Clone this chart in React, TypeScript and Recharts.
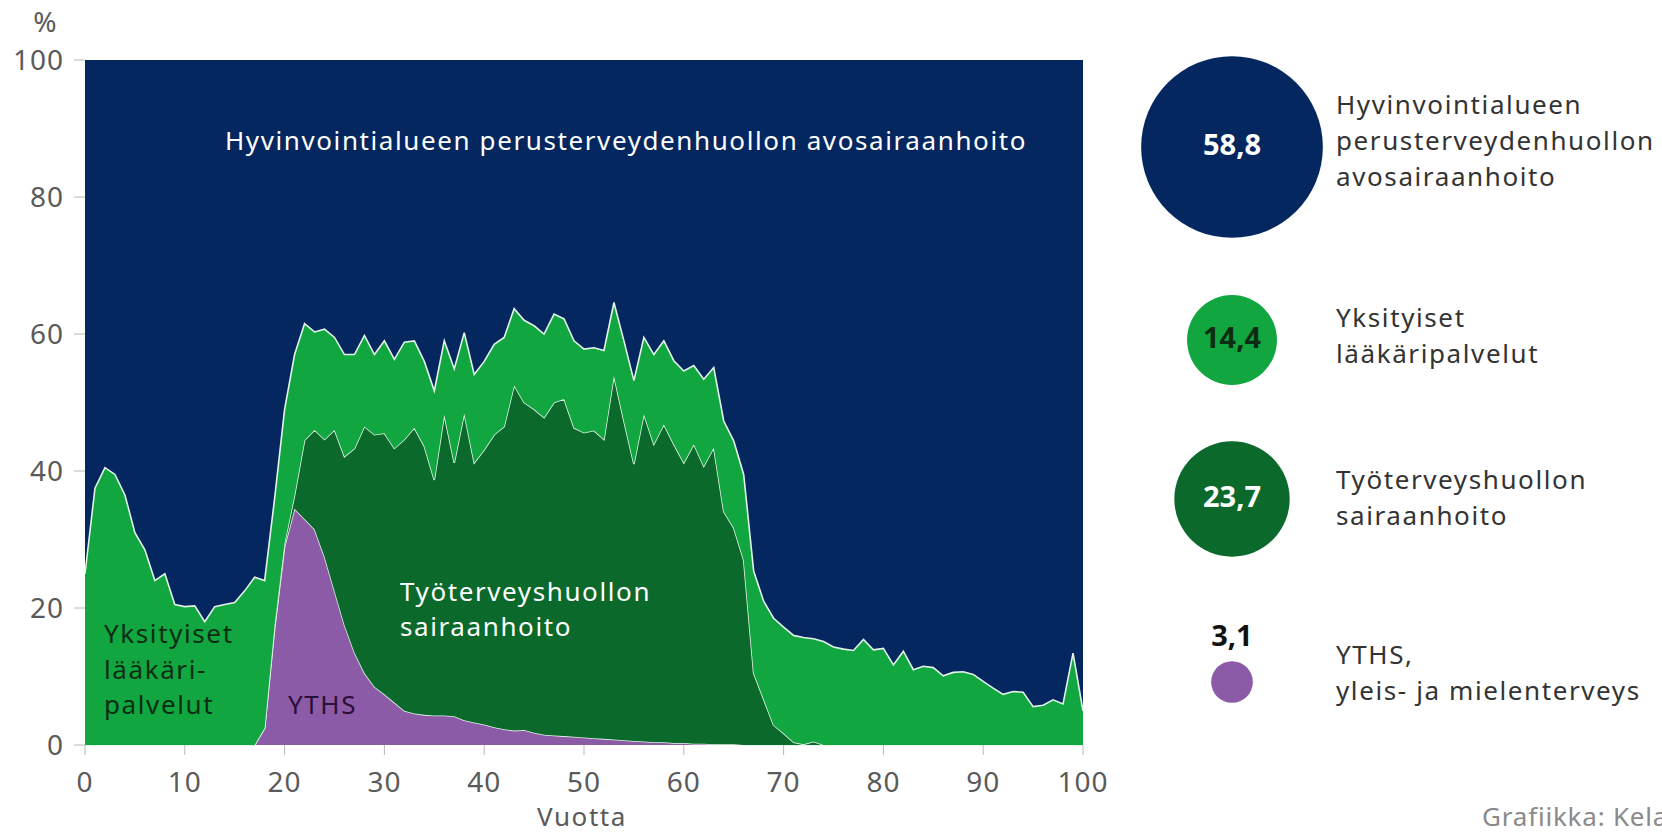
import React from 'react';
import { AreaChart, Area, XAxis, YAxis, ReferenceArea } from 'recharts';

const ages: number[] = Array.from({ length: 101 }, (_, i) => i);

const yths: number[] = [
  0, 0, 0, 0, 0, 0, 0, 0, 0, 0, 0, 0, 0, 0, 0, 0, 0, 0,
  2.5, 17, 29, 34.5, 33, 31.5, 27.5, 22.5, 17.5, 13.5, 10.5, 8.5,
  7.4, 6.2, 5, 4.6, 4.4, 4.3, 4.3, 4.2, 3.6, 3.3,
  3, 2.6, 2.3, 2.1, 2.2, 1.8, 1.5, 1.4, 1.3, 1.2,
  1.1, 1, 0.9, 0.8, 0.7, 0.6, 0.5, 0.4, 0.4, 0.3,
  0.3, 0.2, 0.2, 0.1, 0.1, 0.1,
  0, 0, 0, 0, 0, 0, 0, 0, 0, 0, 0, 0, 0, 0, 0, 0, 0, 0, 0, 0, 0, 0, 0, 0, 0, 0, 0, 0, 0, 0, 0, 0, 0, 0, 0,
];

const tyo: number[] = [
  0, 0, 0, 0, 0, 0, 0, 0, 0, 0, 0, 0, 0, 0, 0, 0, 0, 0, 0,
  0.5, 0.5, 2, 11.5, 14.5, 17.1, 23.5, 24.6, 29.8, 36, 36.8,
  38.1, 37.1, 39.6, 41.7, 39.2, 34.4, 43.9, 37, 44.8, 37.9,
  40.1, 42.7, 44.2, 50.4, 47.8, 47.2, 46.3, 48.6, 49.2, 45.1,
  44.5, 44.9, 43.7, 53.1, 46.6, 40.4, 47.8, 43.5, 46.4, 43.6,
  40.9, 43.7, 40.5, 43.3, 34, 31.6, 27, 10.5, 6.7, 2.9,
  1.7, 0.4, 0.1, 0.5,
  0, 0, 0, 0, 0, 0, 0, 0, 0, 0, 0, 0, 0, 0, 0, 0, 0, 0, 0, 0, 0, 0, 0, 0, 0, 0, 0,
];

const yks: number[] = [
  25, 37.5, 40.5, 39.5, 36.5, 31, 28.5, 24, 25, 20.5,
  20.2, 20.3, 18, 20.2, 20.5, 20.8, 22.5, 24.5, 21.5, 18.5,
  19.5, 20.5, 17, 14.3, 16.1, 13.5, 14.9, 13.7, 13.3, 11.7,
  13.5, 13, 14.2, 12.7, 12.4, 13, 10.8, 13.7, 11.8, 12.9,
  12.9, 13.2, 13, 11.2, 12, 12.2, 12.2, 12.9, 11.7, 12.7,
  12.2, 12.1, 13, 10.7, 11.7, 12.2, 11.2, 13.1, 12.2, 12.2,
  13.4, 11.5, 12.7, 11.7, 13.2, 12.7, 12.5, 14.9, 14.3, 15.6,
  15.5, 15.6, 15.6, 15, 15.1, 14.3, 14, 13.8, 15.4, 13.9,
  14.1, 11.7, 13.7, 11, 11.5, 11.3, 10.1, 10.6, 10.7, 10.3,
  9.3, 8.3, 7.4, 7.8, 7.7, 5.6, 5.8, 6.6, 6, 13.4,
  5,
];

const xTicks: number[] = [0, 10, 20, 30, 40, 50, 60, 70, 80, 90, 100];
const yTicks: number[] = [0, 20, 40, 60, 80, 100];

const legendNames: string[][] = [
  ['Hyvinvointialueen', 'perusterveydenhuollon', 'avosairaanhoito'],
  ['Yksityiset', 'lääkäripalvelut'],
  ['Työterveyshuollon', 'sairaanhoito'],
  ['YTHS,', 'yleis- ja mielenterveys'],
];
const legendShares: number[] = [58.8, 14.4, 23.7, 3.1];
const legendLabels: string[] = ['58,8', '14,4', '23,7', '3,1'];

const NAVY = '#03275e';
const GREEN = '#11a63f';
const DARK = '#0a692b';
const PURPLE = '#8b5ba7';
const LINE = '#e4f3e8';
const FONT = '"Noto Sans", sans-serif';
const LS = 1.6;

const data = ages.map((a, i) => ({ age: a, yths: yths[i], tyo: tyo[i], yks: yks[i] }));

const legendCentersY = [147, 340, 499, 682];
const legendTextY = [107, 320, 482, 657];
const legendNumFill = ['#ffffff', '#0c2d14', '#ffffff', '#111111'];

const tickStyle = { fill: '#5a5a5a', fontSize: 28, fontFamily: FONT, letterSpacing: 1 };

export default function App() {
  return (
    <div style={{ position: 'absolute', left: 0, top: 0, width: 1662, height: 836, background: '#fff', fontFamily: FONT, overflow: 'hidden' }}>
      <div style={{ position: 'absolute', left: 0, top: 0 }}>
        <AreaChart width={1130} height={836} data={data} margin={{ top: 60, right: 47, bottom: 38, left: 0 }}>
          <XAxis
            dataKey="age"
            type="number"
            domain={[0, 100]}
            ticks={xTicks}
            interval={0}
            axisLine={false}
            tickLine={{ stroke: '#b8b8b8' }}
            tickSize={10}
            tickMargin={17}
            height={53}
            tick={tickStyle}
          />
          <YAxis
            yAxisId="l"
            type="number"
            domain={[0, 100]}
            ticks={yTicks}
            interval={0}
            axisLine={false}
            tickLine={{ stroke: '#b8b8b8' }}
            tickSize={11}
            tickMargin={10}
            width={85}
            tick={tickStyle}
          />
          <YAxis
            yAxisId="r"
            orientation="right"
            type="number"
            domain={[0, 100]}
            ticks={yTicks}
            interval={0}
            axisLine={false}
            tickLine={{ stroke: '#b8b8b8' }}
            tickSize={10}
            width={0}
            tickFormatter={() => ''}
          />
          <ReferenceArea yAxisId="l" x1={0} x2={100} y1={0} y2={100} fill={NAVY} fillOpacity={1} stroke="none" />
          <Area yAxisId="l" type="linear" dataKey="yths" stackId="s" fill={PURPLE} fillOpacity={1} stroke={LINE} strokeWidth={1.6} isAnimationActive={false} dot={false} activeDot={false} />
          <Area yAxisId="l" type="linear" dataKey="tyo" stackId="s" fill={DARK} fillOpacity={1} stroke={LINE} strokeWidth={1.6} isAnimationActive={false} dot={false} activeDot={false} />
          <Area yAxisId="l" type="linear" dataKey="yks" stackId="s" fill={GREEN} fillOpacity={1} stroke={LINE} strokeWidth={1.6} isAnimationActive={false} dot={false} activeDot={false} />
        </AreaChart>
      </div>
      <svg width={1662} height={836} style={{ position: 'absolute', left: 0, top: 0, pointerEvents: 'none' }} fontFamily={FONT}>
        <text x={45} y={24} fontSize={28} fill="#5a5a5a" textAnchor="middle" dominantBaseline="middle">%</text>
        <text x={626} y={143} fontSize={26} letterSpacing={LS} fill="#fff" textAnchor="middle" dominantBaseline="middle">Hyvinvointialueen perusterveydenhuollon avosairaanhoito</text>
        <text x={400} y={594} fontSize={26} letterSpacing={LS} fill="#fff" dominantBaseline="middle">Työterveyshuollon</text>
        <text x={400} y={629} fontSize={26} letterSpacing={LS} fill="#fff" dominantBaseline="middle">sairaanhoito</text>
        <text x={104} y={636} fontSize={26} letterSpacing={LS} fill="#0c2d14" dominantBaseline="middle">Yksityiset</text>
        <text x={104} y={672} fontSize={26} letterSpacing={LS} fill="#0c2d14" dominantBaseline="middle">lääkäri-</text>
        <text x={104} y={707} fontSize={26} letterSpacing={LS} fill="#0c2d14" dominantBaseline="middle">palvelut</text>
        <text x={288} y={707} fontSize={26} letterSpacing={LS} fill="#2a1036" dominantBaseline="middle">YTHS</text>
        <text x={582} y={819} fontSize={26} letterSpacing={LS} fill="#5a5a5a" textAnchor="middle" dominantBaseline="middle">Vuotta</text>
        <text x={1482} y={819} fontSize={26} letterSpacing={0.8} fill="#8a8a8a" dominantBaseline="middle">Grafiikka: Kela</text>
        {legendShares.map((v, i) => {
          const r = 11.85 * Math.sqrt(v);
          const fill = [NAVY, GREEN, DARK, PURPLE][i];
          const cy = legendCentersY[i];
          return (
            <g key={i}>
              <circle cx={1232} cy={cy} r={r} fill={fill} />
              {i < 3 ? (
                <text x={1232} y={cy} fontSize={29} fontWeight="bold" fill={legendNumFill[i]} textAnchor="middle" dominantBaseline="middle">{legendLabels[i]}</text>
              ) : (
                <text x={1232} y={cy - r - 23} fontSize={29} fontWeight="bold" fill={legendNumFill[i]} textAnchor="middle" dominantBaseline="middle">{legendLabels[i]}</text>
              )}
              {legendNames[i].map((t, j) => (
                <text key={j} x={1336} y={legendTextY[i] + j * 36} fontSize={26} letterSpacing={LS} fill="#333" dominantBaseline="middle">{t}</text>
              ))}
            </g>
          );
        })}
      </svg>
    </div>
  );
}
